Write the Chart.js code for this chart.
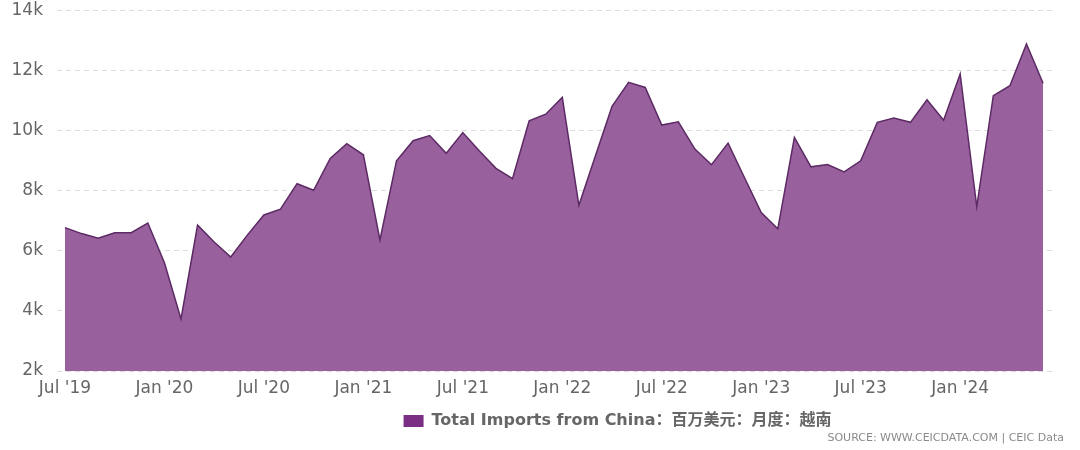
<!DOCTYPE html>
<html>
<head>
<meta charset="utf-8">
<script src="https://cdn.jsdelivr.net/npm/chart.js@4/dist/chart.umd.min.js"></script>
<style>
  html, body { margin: 0; padding: 0; background: #fff; overflow: hidden; }
  #clip { position: relative; width: 1080px; height: 450px; overflow: hidden; }
  #wrap { position: absolute; left: 0; top: -14px; width: 1080px; height: 464px; }
</style>
</head>
<body>
<div id="clip"><div id="wrap"><canvas id="importsChart"></canvas></div></div>
<script>
'use strict';

/** Vietnam: total imports from China, monthly, USD mn */

const months = [
    'Jul 2019', 'Aug 2019', 'Sep 2019', 'Oct 2019', 'Nov 2019', 'Dec 2019',
    'Jan 2020', 'Feb 2020', 'Mar 2020', 'Apr 2020', 'May 2020', 'Jun 2020',
    'Jul 2020', 'Aug 2020', 'Sep 2020', 'Oct 2020', 'Nov 2020', 'Dec 2020',
    'Jan 2021', 'Feb 2021', 'Mar 2021', 'Apr 2021', 'May 2021', 'Jun 2021',
    'Jul 2021', 'Aug 2021', 'Sep 2021', 'Oct 2021', 'Nov 2021', 'Dec 2021',
    'Jan 2022', 'Feb 2022', 'Mar 2022', 'Apr 2022', 'May 2022', 'Jun 2022',
    'Jul 2022', 'Aug 2022', 'Sep 2022', 'Oct 2022', 'Nov 2022', 'Dec 2022',
    'Jan 2023', 'Feb 2023', 'Mar 2023', 'Apr 2023', 'May 2023', 'Jun 2023',
    'Jul 2023', 'Aug 2023', 'Sep 2023', 'Oct 2023', 'Nov 2023', 'Dec 2023',
    'Jan 2024', 'Feb 2024', 'Mar 2024', 'Apr 2024', 'May 2024', 'Jun 2024',
];

const importsFromChina = [
    6770, 6570, 6420, 6600, 6600, 6920,
    5600, 3730, 6850, 6290, 5790, 6520,
    7190, 7380, 8230, 8010, 9070, 9560,
    9190, 6360, 8990, 9660, 9830, 9240,
    9930, 9320, 8740, 8400, 10320, 10540,
    11100, 7510, 9160, 10800, 11600, 11430,
    10180, 10290, 9380, 8860, 9580, 8420,
    7270, 6730, 9770, 8790, 8870, 8620,
    8990, 10270, 10410, 10270, 11020, 10340,
    11880, 7470, 11160, 11490, 12880, 11570,
];

const xTickIndexes = [0, 6, 12, 18, 24, 30, 36, 42, 48, 54];
const xTickLabels = ["Jul '19", "Jan '20", "Jul '20", "Jan '21", "Jul '21",
    "Jan '22", "Jul '22", "Jan '23", "Jul '23", "Jan '24"];

const seriesName = 'Total Imports from China：百万美元：月度：越南';
const sourceText = 'SOURCE: WWW.CEICDATA.COM | CEIC Data';

const FONT = '"DejaVu Sans", "Noto Sans CJK SC", sans-serif';

// canvas is shifted up 14px, so add it back for fixed positions
const SHIFT = 14;

const sourcePlugin = {
    id: 'sourceText',
    afterLayout(chart) {
        // legend sits right of centre in the original
        chart.legend.left += 180;
    },
    afterDraw(chart) {
        const ctx = chart.ctx;
        ctx.save();
        ctx.font = '11px ' + FONT;
        ctx.fillStyle = '#8a8a8a';
        ctx.textAlign = 'right';
        ctx.textBaseline = 'middle';
        ctx.fillText(sourceText, 1064, 438 + SHIFT);
        ctx.restore();
    },
};

const ctx = document.getElementById('importsChart').getContext('2d');
const importsChart = new Chart(ctx, {
    type: 'line',
    data: {
        datasets: [
            {
                label: seriesName,
                data: importsFromChina.map((v, i) => ({ x: i, y: v })),
                borderColor: '#5c2a64',
                backgroundColor: '#98609c',
                borderWidth: 1.5,
                pointRadius: 0,
                tension: 0,
                fill: 'start',
            },
        ],
    },
    options: {
        responsive: true,
        maintainAspectRatio: false,
        animation: false,
        layout: { padding: { top: 0, right: 25, bottom: 11, left: 0 } },
        plugins: {
            tooltip: { enabled: false },
            legend: {
                position: 'bottom',
                labels: {
                    boxWidth: 20,
                    boxHeight: 12,
                    padding: 8,
                    color: '#666',
                    font: { family: FONT, size: 16, weight: 'bold' },
                    generateLabels: () => [{
                        text: seriesName,
                        fillStyle: '#7b2f84',
                        strokeStyle: '#7b2f84',
                        lineWidth: 0,
                        fontColor: '#666',
                        datasetIndex: 0,
                    }],
                },
            },
        },
        scales: {
            x: {
                type: 'linear',
                min: -0.48,
                max: 59.72,
                grid: { display: false, drawTicks: false },
                border: { display: false },
                afterBuildTicks: (scale) => {
                    scale.ticks = xTickIndexes.map((v) => ({ value: v }));
                },
                afterFit: (scale) => { scale.height = 34; },
                ticks: {
                    autoSkip: false,
                    maxRotation: 0,
                    padding: 7,
                    color: '#666',
                    font: { family: FONT, size: 17 },
                    callback: (value) => xTickLabels[xTickIndexes.indexOf(value)],
                },
            },
            y: {
                min: 2000,
                max: 14000,
                grid: { color: '#dcdcdc', lineWidth: 1, drawTicks: false },
                border: { display: false, dash: [5, 4] },
                afterFit: (scale) => { scale.width = 57; },
                ticks: {
                    stepSize: 2000,
                    padding: 14,
                    color: '#666',
                    font: { family: FONT, size: 17 },
                    callback: (value) => `${value / 1000}k`,
                },
            },
        },
    },
    plugins: [sourcePlugin],
});
</script>
</body>
</html>
